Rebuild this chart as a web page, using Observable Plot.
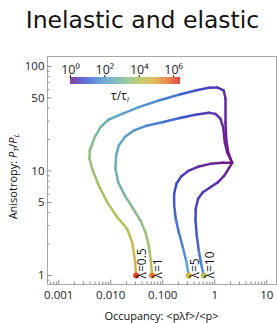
<!DOCTYPE html>
<html><head><meta charset="utf-8">
<script src="https://cdn.jsdelivr.net/npm/d3@7"></script>
<script src="https://cdn.jsdelivr.net/npm/@observablehq/plot@0.6"></script>
<style>
body{margin:0;background:#fff;}
#wrap{position:relative;width:277px;height:323px;overflow:hidden;font-family:"Open Sans",sans-serif;color:#111;}
#wrap svg{position:absolute;overflow:visible;}
.lbl{position:absolute;white-space:nowrap;text-align:center;}
#title{left:4px;top:8px;width:277px;font-family:"DejaVu Sans",sans-serif;font-size:23.5px;line-height:24px;color:#111;}
#ylab{left:-51px;top:168px;width:130px;font-size:11px;line-height:14px;transform:rotate(-90deg);}
#xlab{left:47px;top:309px;width:229px;font-size:11px;line-height:14px;}
#cblab{left:95px;top:89px;width:50px;font-size:12px;line-height:14px;}
sub{font-size:8px;vertical-align:-2px;}
</style></head><body><div id="wrap">
<div id="title" class="lbl">Inelastic and elastic</div>
<div id="ylab" class="lbl">Anisotropy: <i>P</i><sub><i>T</i></sub>/<i>P</i><sub><i>L</i></sub></div>
<div id="xlab" class="lbl">Occupancy: &lt;pλf&gt;/&lt;p&gt;</div>
<div id="cblab" class="lbl">τ/τ<sub><i>I</i></sub></div>
</div>
<script>
// ---- data ----
const curveNames = ["λ=0.5", "λ=1", "λ=5", "λ=10"];
const lam05_x = [2.16,1.81,1.66,1.61,1.61,1.49,1.11,0.767,0.426,0.203,0.084,0.0346,0.01656,0.00916,0.00634,0.00493,0.00395,0.00389,0.00451,0.00589,0.00851,0.01326,0.02065,0.02577,0.02897,0.0308];
const lam05_y = [11.97,15.1,20.3,29.3,49.1,58.9,63.0,62.5,58.9,53.6,47.3,40.8,35.2,31.1,26.3,21.1,15.7,13.1,10.1,7.27,5.03,3.62,2.80,2.08,1.44,1];
const lam05_t = [0,0.05,0.1,0.2,0.3,0.4,0.55,0.7,1.0,1.4,1.8,2.1,2.4,2.7,3.0,3.25,3.45,3.55,3.7,3.85,3.95,4.05,4.2,4.4,4.7,6.1];
const lam1_x = [2.16,1.73,1.56,1.45,1.29,1.03,0.767,0.426,0.203,0.0973,0.0464,0.0277,0.0186,0.01425,0.01268,0.0123,0.01387,0.0186,0.02655,0.0372,0.0464,0.0538,0.0589,0.0625];
const lam1_y = [11.97,15.1,18.9,26.3,31.6,35.2,36.0,34.5,32.0,29.3,26.9,24.4,21.1,17.5,14.1,10.5,7.82,5.83,4.41,3.36,2.60,1.94,1.39,1];
const lam1_t = [0,0.05,0.1,0.2,0.3,0.4,0.55,0.85,1.2,1.55,1.85,2.1,2.3,2.45,2.6,2.75,2.9,3.1,3.3,3.5,3.65,3.85,4.05,5.6];
const lam5_x = [2.16,1.39,0.826,0.493,0.317,0.229,0.183,0.1656,0.1656,0.178,0.203,0.2427,0.281,0.317];
const lam5_y = [11.97,11.97,11.7,11.04,10.1,8.92,7.54,6.05,4.68,3.49,2.60,1.87,1.39,1];
const lam5_t = [0,0.1,0.2,0.35,0.5,0.65,0.8,0.95,1.1,1.3,1.5,1.8,2.3,4.6];
const lam10_x = [2.16,1.86,1.54,1.16,0.826,0.589,0.478,0.431,0.426,0.451,0.493,0.547,0.615];
const lam10_y = [11.97,10.6,9.06,7.82,7.0,6.27,5.42,4.35,3.36,2.41,1.73,1.29,1];
const lam10_t = [0,0.1,0.2,0.3,0.4,0.5,0.6,0.75,0.9,1.1,1.35,1.65,4.0];

const xTicks = [0.001, 0.01, 0.1, 1, 10];
const xTickLabels = ["0.001", "0.010", "0.100", "1", "10"];
const yTicks = [1, 5, 10, 50, 100];
const yTickLabels = ["1", "5", "10", "50", "100"];
const cbTicks = [0, 2, 4, 6];
const cbTickLabels = ["10⁰", "10²", "10⁴", "10⁶"];
const rainbowStops = ["#6f1d8c","#3f4ccc","#4d88d6","#5fa8c2","#82bc90","#b0c25a","#dab23c","#e6772c","#d92120"];

// ---- build tables ----
const series = [[lam05_x,lam05_y,lam05_t],[lam1_x,lam1_y,lam1_t],[lam5_x,lam5_y,lam5_t],[lam10_x,lam10_y,lam10_t]];
const rows = [];
const ends = [];
series.forEach(([xs,ys,ts], k) => {
  xs.forEach((x,i) => rows.push({curve: curveNames[k], x, y: ys[i], t: ts[i]}));
  const n = xs.length - 1;
  ends.push({curve: curveNames[k], x: xs[n], y: ys[n], t: ts[n]});
});
const xMinor = [];
for (let e = -4; e <= 1; e++) for (let m = 2; m <= 9; m++) { const v = m * 10 ** e; if (v > 0.00061 && v < 15) xMinor.push(+v.toPrecision(3)); }
const yMinor = [];
for (let e = -1; e <= 2; e++) for (let m = 2; m <= 9; m++) { const v = m * 10 ** e; if (v > 0.82 && v < 124 && !yTicks.includes(+v.toPrecision(3))) yMinor.push(+v.toPrecision(3)); }

const rainbow = d3.piecewise(d3.interpolateRgb, rainbowStops);
const colorScale = {type: "linear", domain: [0, 6.4], interpolate: rainbow};

const W = 277, H = 323, mT = 56, mB = 39, mL = 47, mR = 1;
const frameW = W - mL - mR, frameH = H - mT - mB;
const gray = "#a8a8a8";

const chart = Plot.plot({
  width: W, height: H, marginTop: mT, marginBottom: mB, marginLeft: mL, marginRight: mR,
  style: {fontFamily: "Open Sans, sans-serif", fontSize: "11.5px", color: "#222", background: "transparent"},
  x: {type: "log", domain: [0.000607, 15.4], ticks: xTicks, tickFormat: d => xTickLabels[xTicks.indexOf(d)], tickSize: 0, tickPadding: 6, label: null},
  y: {type: "log", domain: [0.82, 124.6], ticks: yTicks, tickFormat: d => yTickLabels[yTicks.indexOf(d)], tickSize: 0, tickPadding: 3, label: null},
  color: colorScale,
  marks: [
    Plot.frame({stroke: gray}),
    Plot.tickX(xMinor, {x: d => d, insetTop: frameH - 2.5, stroke: "#888"}),
    Plot.tickX(xTicks, {x: d => d, insetTop: frameH - 4.5, stroke: "#888"}),
    Plot.tickY(yMinor, {y: d => d, insetRight: frameW - 2.5, stroke: "#888"}),
    Plot.tickY(yTicks, {y: d => d, insetRight: frameW - 4.5, stroke: "#888"}),
    Plot.line(rows, {x: "x", y: "y", z: "curve", stroke: "t", strokeWidth: 2.5, strokeLinecap: "round", strokeLinejoin: "round"}),
    Plot.dot(ends, {x: "x", y: "y", fill: "t", r: 3}),
    Plot.text(ends, {x: "x", y: "y", text: "curve", rotate: -90, textAnchor: "start", dx: 6, dy: 3, fontSize: 12, fill: "#111"})
  ]
});
chart.style.left = "0px"; chart.style.top = "0px";
const wrap = document.getElementById("wrap");
wrap.insertBefore(chart, wrap.firstChild);

// ---- colour bar legend ----
const cbSteps = d3.range(0, 6.4, 0.04);
const cb = Plot.plot({
  width: 130, height: 30, marginLeft: 10, marginRight: 10, marginTop: 22, marginBottom: 1,
  style: {fontFamily: "Open Sans, sans-serif", fontSize: "12.5px", color: "#222", background: "transparent"},
  x: {domain: [0, 6.4], axis: "top", ticks: cbTicks, tickFormat: d => cbTickLabels[cbTicks.indexOf(d)], tickSize: 3, tickPadding: 1, label: null},
  y: {domain: [0, 1], axis: null},
  color: colorScale,
  marks: [
    Plot.rect(cbSteps, {x1: d => d, x2: d => d + 0.045, y1: 0, y2: 1, fill: d => d})
  ]
});
cb.style.left = "60px"; cb.style.top = "54.5px";
wrap.appendChild(cb);
</script></body></html>
